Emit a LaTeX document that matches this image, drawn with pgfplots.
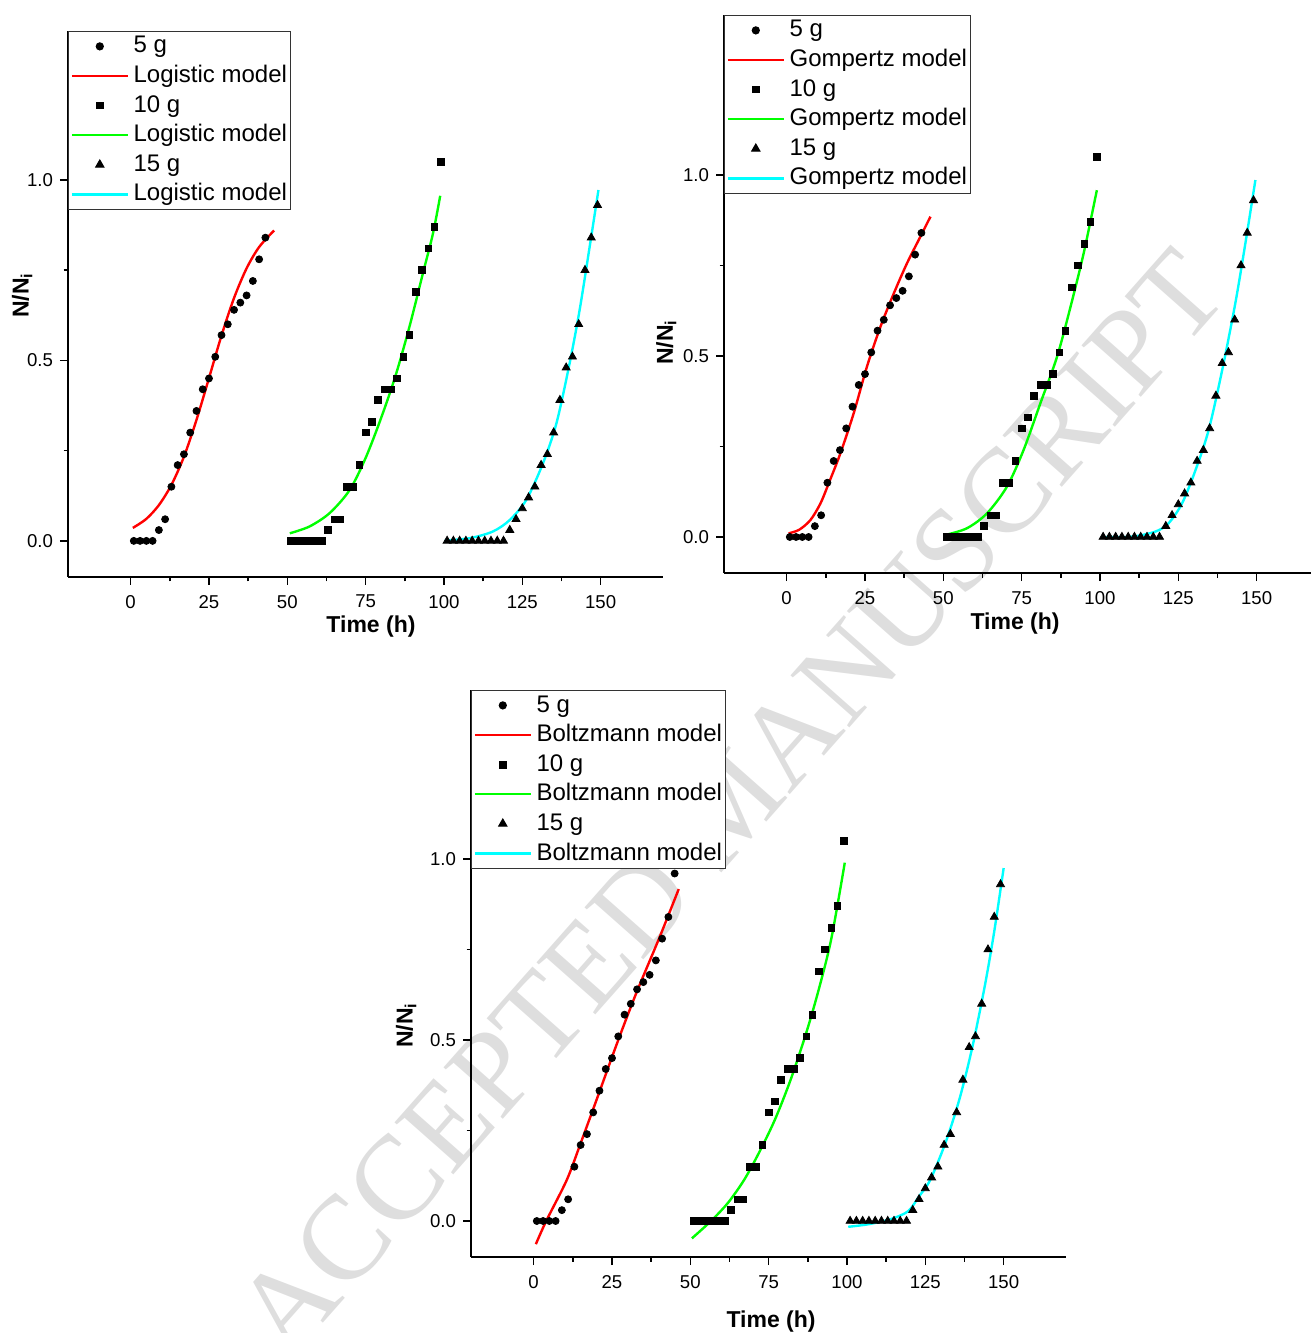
\documentclass[border=0pt]{standalone}
\usepackage{pgfplots}
\pgfplotsset{compat=1.18}
\usepackage{fontspec}
\setmainfont{Liberation Sans}
\newfontfamily\wmfont{Liberation Serif}
\definecolor{ored}{RGB}{255,0,0}
\definecolor{ogreen}{RGB}{0,255,0}
\definecolor{ocyan}{RGB}{0,255,255}
\pgfplotsset{
  mylegimg/.style={legend image code/.code={\draw[mark repeat=2,mark phase=2,##1] plot coordinates {(0pt,0pt)(14pt,0pt)(28pt,0pt)};}},
  panel/.style={
    scale only axis, width=297.65pt,
    xmin=-20, xmax=170, ymin=-0.1,
    axis x line*=bottom, axis y line*=left,
    axis line style={line width=1pt,-},
    xtick={0,25,...,150}, ytick={0,0.5,1.0},
    minor x tick num=1, minor y tick num=1,
    tick align=outside, major tick length=4pt, minor tick length=2.2pt,
    tick style={black, line width=0.8pt},
    tick label style={font=\fontsize{9.3}{11}\selectfont},
    /pgf/number format/assume math mode=true,
    yticklabel style={/pgf/number format/.cd, fixed, fixed zerofill, precision=1},
    xticklabel style={yshift=-1.5pt, /pgf/number format/.cd, fixed},
    legend cell align=left,
    legend style={at={(rel axis cs:0,1)}, anchor=north west, draw=black!80, line width=0.6pt, fill=white,
      inner xsep=1pt, inner ysep=0pt, row sep=0pt, column sep=1.5pt, font=\fontsize{12}{14}\selectfont,
      nodes={inner sep=0.8pt, text height=9.9pt, text depth=3.3pt}},
    xlabel={\textbf{Time (h)}}, ylabel={\textbf{N/N\textsubscript{i}}},
    label style={font=\fontsize{11.5}{13}\selectfont},
  },
  pA/.style={only marks, black, mark=*, mark size=1.75pt, mylegimg},
  pB/.style={only marks, black, mark=square*, mark size=1.65pt, mylegimg},
  pC/.style={only marks, black, mark=triangle*, mark size=2.3pt, mylegimg},
  crv/.style={smooth, line width=1.2pt, mylegimg},
}
\pgfplotstableread{
t y
1 0
3 0
5 0
7 0
9 0.03
11 0.06
13 0.15
15 0.21
17 0.24
19 0.30
21 0.36
23 0.42
25 0.45
27 0.51
29 0.57
31 0.60
33 0.64
35 0.66
37 0.68
39 0.72
41 0.78
43 0.84
45 0.96
}\dataA
\pgfplotstableread{
t y
51 0
53 0
55 0
57 0
59 0
61 0
63 0.03
65 0.06
67 0.06
69 0.15
71 0.15
73 0.21
75 0.30
77 0.33
79 0.39
81 0.42
83 0.42
85 0.45
87 0.51
89 0.57
91 0.69
93 0.75
95 0.81
97 0.87
99 1.05
}\dataB
\pgfplotstableread{
t y
101 0
103 0
105 0
107 0
109 0
111 0
113 0
115 0
117 0
119 0
121 0.03
123 0.06
125 0.09
127 0.12
129 0.15
131 0.21
133 0.24
135 0.30
137 0.39
139 0.48
141 0.51
143 0.60
145 0.75
147 0.84
149 0.93
}\dataC
\begin{document}
\begin{tikzpicture}
\node[font=\wmfont\fontsize{60}{62}\selectfont, text=black!13, rotate=48.5, anchor=base] at (380pt,252pt) {ACCEPTED MANUSCRIPT};
% ---------------- Logistic
\begin{axis}[panel, at={(34pt,378pt)}, anchor=south west, height=273pt, ymax=1.4125,
  xlabel style={at={(axis description cs:0.509,-0.09)}, anchor=center},
  ylabel style={at={(axis description cs:-0.077,0.516)}, anchor=center}]
\addplot[pA] table {\dataA}; \addlegendentry{5 g}
\addplot[crv, ored] coordinates {(0.7,0.036)(5,0.061)(9,0.099)(13,0.155)(17,0.233)(21,0.335)(25,0.451)(29,0.569)(33,0.673)(37,0.755)(41,0.814)(45.8,0.86)}; \addlegendentry{Logistic model}
\addplot[pB] table {\dataB}; \addlegendentry{10 g}
\addplot[crv, ogreen] coordinates {(50.8,0.021)(57.1,0.04)(63.5,0.077)(69.9,0.141)(75.2,0.234)(80.5,0.354)(84.8,0.465)(89,0.594)(93.3,0.742)(96.5,0.852)(98.8,0.956)}; \addlegendentry{Logistic model}
\addplot[pC] table {\dataC}; \addlegendentry{15 g}
\addplot[crv, ocyan] coordinates {(100.2,0.001)(108.2,0.0075)(115.6,0.026)(121,0.058)(126.3,0.114)(131.6,0.215)(135.9,0.326)(140.1,0.492)(143.3,0.64)(146.5,0.815)(149.3,0.972)}; \addlegendentry{Logistic model}
\end{axis}
% ---------------- Gompertz
\begin{axis}[panel, at={(362pt,379.9pt)}, anchor=south west, height=279.1pt, ymax=1.442,
  xlabel style={at={(axis description cs:0.489,-0.09)}, anchor=center},
  ylabel style={at={(axis description cs:-0.097,0.414)}, anchor=center}]
\addplot[pA] table {\dataA}; \addlegendentry{5 g}
\addplot[crv, ored] coordinates {(0.6,0.01)(4,0.02)(7.6,0.047)(10.8,0.093)(13.5,0.15)(17.1,0.23)(21.4,0.342)(25.6,0.47)(29.9,0.58)(34.2,0.673)(38.4,0.756)(42.7,0.83)(45.9,0.885)}; \addlegendentry{Gompertz model}
\addplot[pB] table {\dataB}; \addlegendentry{10 g}
\addplot[crv, ogreen] coordinates {(50.6,0.0055)(57.5,0.024)(63.9,0.065)(70.3,0.139)(75.6,0.24)(81,0.37)(86.3,0.498)(90.6,0.636)(94.8,0.784)(99,0.958)}; \addlegendentry{Gompertz model}
\addplot[pC] table {\dataC}; \addlegendentry{15 g}
\addplot[crv, ocyan] coordinates {(100.6,0)(110.2,0.001)(117.7,0.015)(121.9,0.038)(126.2,0.093)(130.5,0.185)(134.7,0.296)(139,0.461)(143.2,0.646)(146.4,0.811)(149.6,0.986)}; \addlegendentry{Gompertz model}
\end{axis}
% ---------------- Boltzmann
\begin{axis}[panel, at={(235.5pt,37.9pt)}, anchor=south west, height=283.6pt, ymax=1.467,
  xlabel style={at={(axis description cs:0.504,-0.113)}, anchor=center},
  ylabel style={at={(axis description cs:-0.109,0.409)}, anchor=center}]
\addplot[pA] table {\dataA}; \addlegendentry{5 g}
\addplot[crv, ored] coordinates {(0.7,-0.064)(4,0)(10.6,0.114)(15,0.215)(20,0.333)(27,0.5)(33,0.635)(40,0.78)(46.3,0.917)}; \addlegendentry{Boltzmann model}
\addplot[pB] table {\dataB}; \addlegendentry{10 g}
\addplot[crv, ogreen] coordinates {(50.5,-0.048)(56.6,0)(62,0.05)(67.2,0.114)(72,0.19)(77,0.28)(82,0.39)(87,0.52)(91,0.64)(95,0.78)(99.3,0.99)}; \addlegendentry{Boltzmann model}
\addplot[pC] table {\dataC}; \addlegendentry{15 g}
\addplot[crv, ocyan] coordinates {(100.4,-0.016)(106.8,-0.009)(113.9,0.005)(119.5,0.027)(123,0.068)(126.6,0.114)(131.6,0.22)(136,0.34)(140,0.48)(144,0.65)(147,0.80)(150,0.975)}; \addlegendentry{Boltzmann model}
\end{axis}
\pgfresetboundingbox
\path[use as bounding box] (0,0) rectangle (655.5pt,666.5pt);
\end{tikzpicture}
\end{document}
